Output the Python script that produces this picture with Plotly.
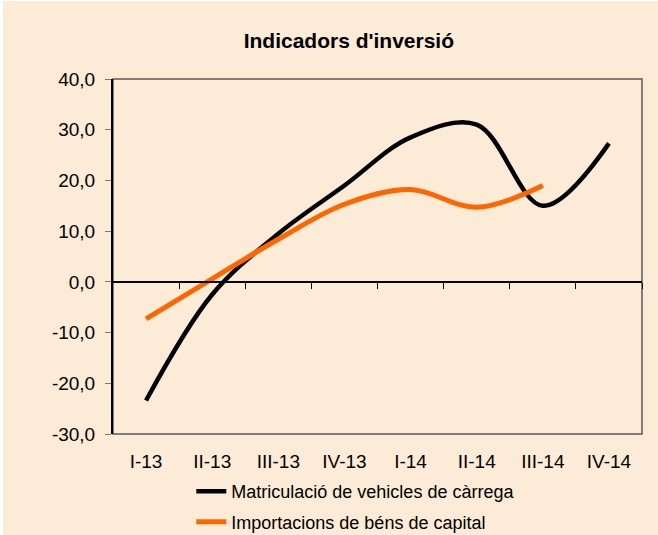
import plotly.graph_objects as go

categories = ["I-13", "II-13", "III-13", "IV-13", "I-14", "II-14", "III-14", "IV-14"]
vehicles = [-23.4, -2.5, 9.5, 19.0, 28.5, 31.0, 15.0, 27.3]
capital = [-7.3, 0.6, 8.4, 15.3, 18.2, 14.7, 19.0]
y_ticks = [-30, -20, -10, 0, 10, 20, 30, 40]
y_tick_labels = [f"{v:.1f}".replace(".", ",") for v in y_ticks]

name_vehicles = "Matriculació de vehicles de càrrega"
name_capital = "Importacions de béns de capital"

xpos = list(range(len(categories)))
boundaries = [i + 0.5 for i in xpos]

BG = "#FCEBD7"
FONT = "Liberation Sans, Arial, sans-serif"

fig = go.Figure()
fig.add_trace(go.Scatter(
    x=xpos[:len(vehicles)], y=vehicles, name=name_vehicles, mode="lines",
    line=dict(color="#000000", width=4.5, shape="spline", smoothing=1.0),
    legendgroup="a", hoverinfo="skip"))
fig.add_trace(go.Scatter(
    x=xpos[:len(capital)], y=capital, name=name_capital, mode="lines",
    line=dict(color="#FF6600", width=5, shape="spline", smoothing=1.0),
    legendgroup="b", hoverinfo="skip"))
# invisible trace to carry the zero-crossing category axis
fig.add_trace(go.Scatter(
    x=xpos, y=[0] * len(xpos), xaxis="x2", mode="lines",
    line=dict(width=0, color="rgba(0,0,0,0)"), showlegend=False, hoverinfo="skip"))

ymin, ymax = y_ticks[0], y_ticks[-1]

fig.update_layout(
    width=655, height=534,
    paper_bgcolor=BG, plot_bgcolor=BG,
    margin=dict(l=110, r=16, t=78, b=101, autoexpand=False),
    font=dict(family=FONT, size=19, color="#000000"),
    separators=",.",
    title=dict(text="<b>Indicadors d'inversió</b>", x=0.528, xanchor="center",
               y=0.925, yanchor="middle", xref="container",
               font=dict(family=FONT, size=21, color="#000000")),
    xaxis=dict(range=[-0.5, len(categories) - 0.5], tickmode="array",
               tickvals=xpos, ticktext=categories, showgrid=False, zeroline=False,
               showline=False, ticks="", ticklabelstandoff=14, automargin=False,
               tickfont=dict(size=19)),
    xaxis2=dict(range=[-0.5, len(categories) - 0.5], overlaying="x", anchor="free",
                position=(0 - ymin) / (ymax - ymin), side="bottom",
                tickmode="array", tickvals=boundaries, showticklabels=False,
                ticks="outside", ticklen=6, tickcolor="#000000", tickwidth=1,
                showline=True, linecolor="#000000", linewidth=2, automargin=False,
                showgrid=False, zeroline=False),
    yaxis=dict(range=[ymin, ymax], tickmode="array", tickvals=y_ticks,
               ticktext=y_tick_labels, showgrid=False, zeroline=False,
               showline=True, linecolor="#000000", linewidth=2,
               ticks="outside", ticklen=6, tickcolor="#777777", automargin=False,
               ticklabelstandoff=6, tickfont=dict(size=19)),
    legend=dict(x=0.148, xanchor="left", y=0.116, yanchor="top", yref="container",
                bgcolor="rgba(0,0,0,0)", font=dict(size=18, family=FONT),
                tracegroupgap=4, orientation="v"),
    shapes=[dict(type="rect", xref="paper", yref="paper", x0=0, x1=1, y0=0, y1=1,
                 line=dict(color="#5a5a5a", width=1.5), layer="below")],
)

fig.write_html("out.html",
               post_script="document.body.style.margin='1px 0 0 3px';"
                           "document.body.style.overflow='hidden';")
